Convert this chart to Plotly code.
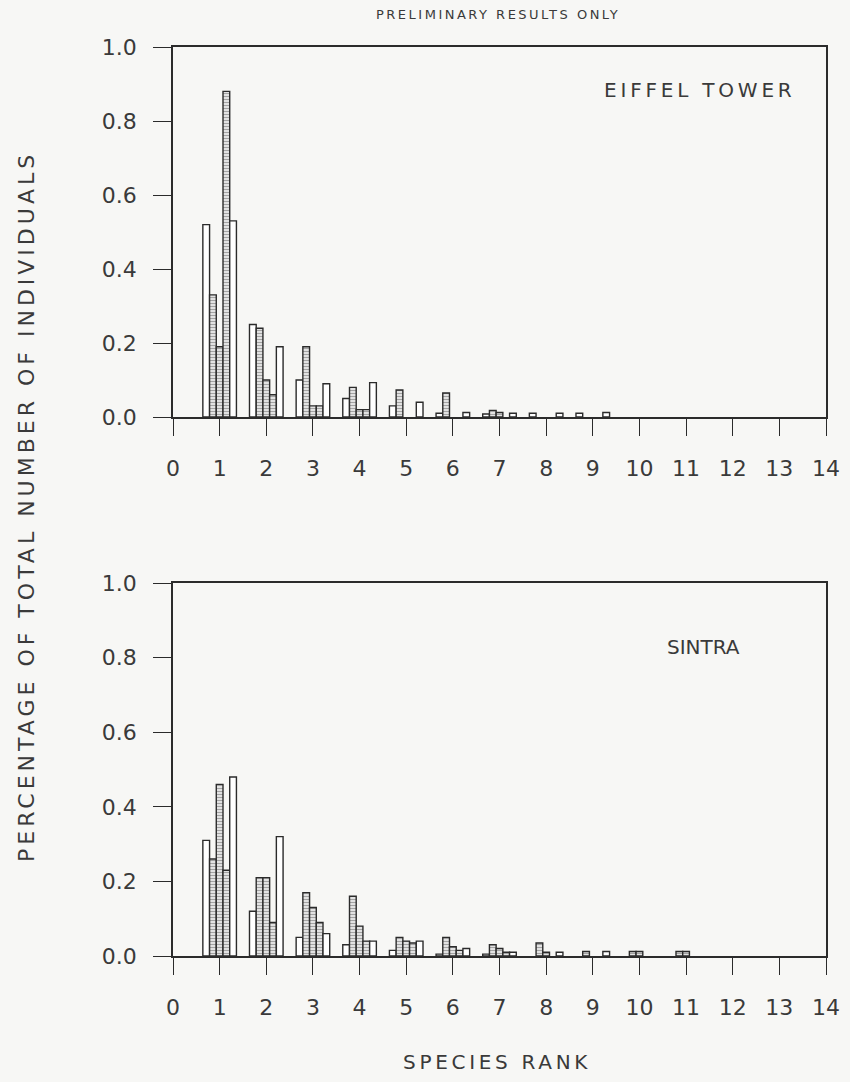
import plotly.graph_objects as go

ranks = list(range(1, 15))

# Eiffel Tower panel: five series per species rank
eiffel_s1 = [0.52, 0.25, 0.10, 0.05, 0.03, 0.01, 0.008, 0.01, 0.01, 0, 0, 0, 0, 0]
eiffel_s2 = [0.33, 0.24, 0.19, 0.08, 0.073, 0.065, 0.018, 0, 0, 0, 0, 0, 0, 0]
eiffel_s3 = [0.19, 0.10, 0.03, 0.02, 0, 0, 0.012, 0, 0, 0, 0, 0, 0, 0]
eiffel_s4 = [0.88, 0.06, 0.03, 0.02, 0, 0, 0, 0, 0, 0, 0, 0, 0, 0]
eiffel_s5 = [0.53, 0.19, 0.09, 0.093, 0.04, 0.012, 0.01, 0.01, 0.012, 0, 0, 0, 0, 0]

# Sintra panel
sintra_s1 = [0.31, 0.12, 0.05, 0.03, 0.015, 0.005, 0.005, 0, 0, 0, 0, 0, 0, 0]
sintra_s2 = [0.26, 0.21, 0.17, 0.16, 0.05, 0.05, 0.03, 0.035, 0.012, 0.012, 0.012, 0, 0, 0]
sintra_s3 = [0.46, 0.21, 0.13, 0.08, 0.04, 0.025, 0.02, 0.01, 0, 0.012, 0.012, 0, 0, 0]
sintra_s4 = [0.23, 0.09, 0.09, 0.04, 0.035, 0.015, 0.01, 0, 0, 0, 0, 0, 0, 0]
sintra_s5 = [0.48, 0.32, 0.06, 0.04, 0.04, 0.02, 0.01, 0.01, 0.012, 0, 0, 0, 0, 0]

x_ticks = list(range(0, 15))
y_ticks = [0.0, 0.2, 0.4, 0.6, 0.8, 1.0]
y_tick_text = ["0.0", "0.2", "0.4", "0.6", "0.8", "1.0"]

INK = "#2b2b2b"
BG = "#f7f7f5"
FONT = "DejaVu Sans"
TXT = "#3a3a3a"

hatched = [False, True, True, True, False]

fig = go.Figure()

def add_panel(series, xa, ya):
    for i, vals in enumerate(series):
        shown = [v if v > 0 else None for v in vals]
        if hatched[i]:
            marker = dict(color="white", line=dict(color=INK, width=1.4),
                          pattern=dict(shape="-", size=3, solidity=0.55,
                                       fgcolor="#484848", bgcolor="white"))
        else:
            marker = dict(color="white", line=dict(color=INK, width=1.4))
        fig.add_trace(go.Bar(x=ranks, y=shown, marker=marker, xaxis=xa, yaxis=ya,
                             showlegend=False, offsetgroup=str(i)))

add_panel([eiffel_s1, eiffel_s2, eiffel_s3, eiffel_s4, eiffel_s5], "x", "y")
add_panel([sintra_s1, sintra_s2, sintra_s3, sintra_s4, sintra_s5], "x2", "y2")

W, H = 850, 1082
xdom = [173 / W, 826 / W]
top_dom = [(H - 417) / H, (H - 47) / H]
bot_dom = [(H - 956) / H, (H - 583) / H]

def xaxis(anchor):
    return dict(domain=xdom, range=[0, 14], anchor=anchor, tickmode="array",
                tickvals=x_ticks, ticktext=[str(t) for t in x_ticks],
                ticks="outside", ticklen=17, tickwidth=1.4, tickcolor=INK,
                showline=True, linecolor=INK, linewidth=1.5, mirror=True,
                showgrid=False, zeroline=False, ticklabelstandoff=14, automargin=False,
                tickfont=dict(family=FONT, size=22, color=TXT))

def yaxis(anchor, dom):
    return dict(domain=dom, range=[0, 1], anchor=anchor, tickmode="array",
                tickvals=y_ticks, ticktext=y_tick_text,
                ticks="outside", ticklen=18, tickwidth=1.4, tickcolor=INK,
                showline=True, linecolor=INK, linewidth=1.5, mirror=True,
                showgrid=False, zeroline=False, ticklabelstandoff=12, automargin=False,
                tickfont=dict(family=FONT, size=22, color=TXT))

def note(text, px, py, size, spacing, angle=0):
    return dict(text='<span style="letter-spacing:%spx">%s</span>' % (spacing, text),
                x=px / W, y=(H - py) / H, xref="paper", yref="paper",
                xanchor="center", yanchor="middle", showarrow=False, textangle=angle,
                font=dict(family=FONT, size=size, color=TXT))

fig.update_layout(
    width=W, height=H, autosize=False,
    margin=dict(l=0, r=0, t=0, b=0, pad=0, autoexpand=False),
    paper_bgcolor=BG, plot_bgcolor=BG,
    barmode="group", bargap=0.28, bargroupgap=0,
    xaxis=xaxis("y"), yaxis=yaxis("x", top_dom),
    xaxis2=xaxis("y2"), yaxis2=yaxis("x2", bot_dom),
    font=dict(family=FONT, color=TXT),
    annotations=[
        note("PRELIMINARY RESULTS ONLY", 498, 14, 13, 2.5),
        note("EIFFEL TOWER", 700, 90, 20, 3.8),
        note("SINTRA", 703, 647, 20, 0),
        note("PERCENTAGE OF TOTAL NUMBER OF INDIVIDUALS", 26, 507, 22, 4),
        note("SPECIES RANK", 497, 1062, 20, 3.7),
    ],
)
fig.layout.annotations[3].textangle = -90

fig.write_html("out.html",
               post_script="document.body.style.margin='0';document.body.style.overflow='hidden';")
